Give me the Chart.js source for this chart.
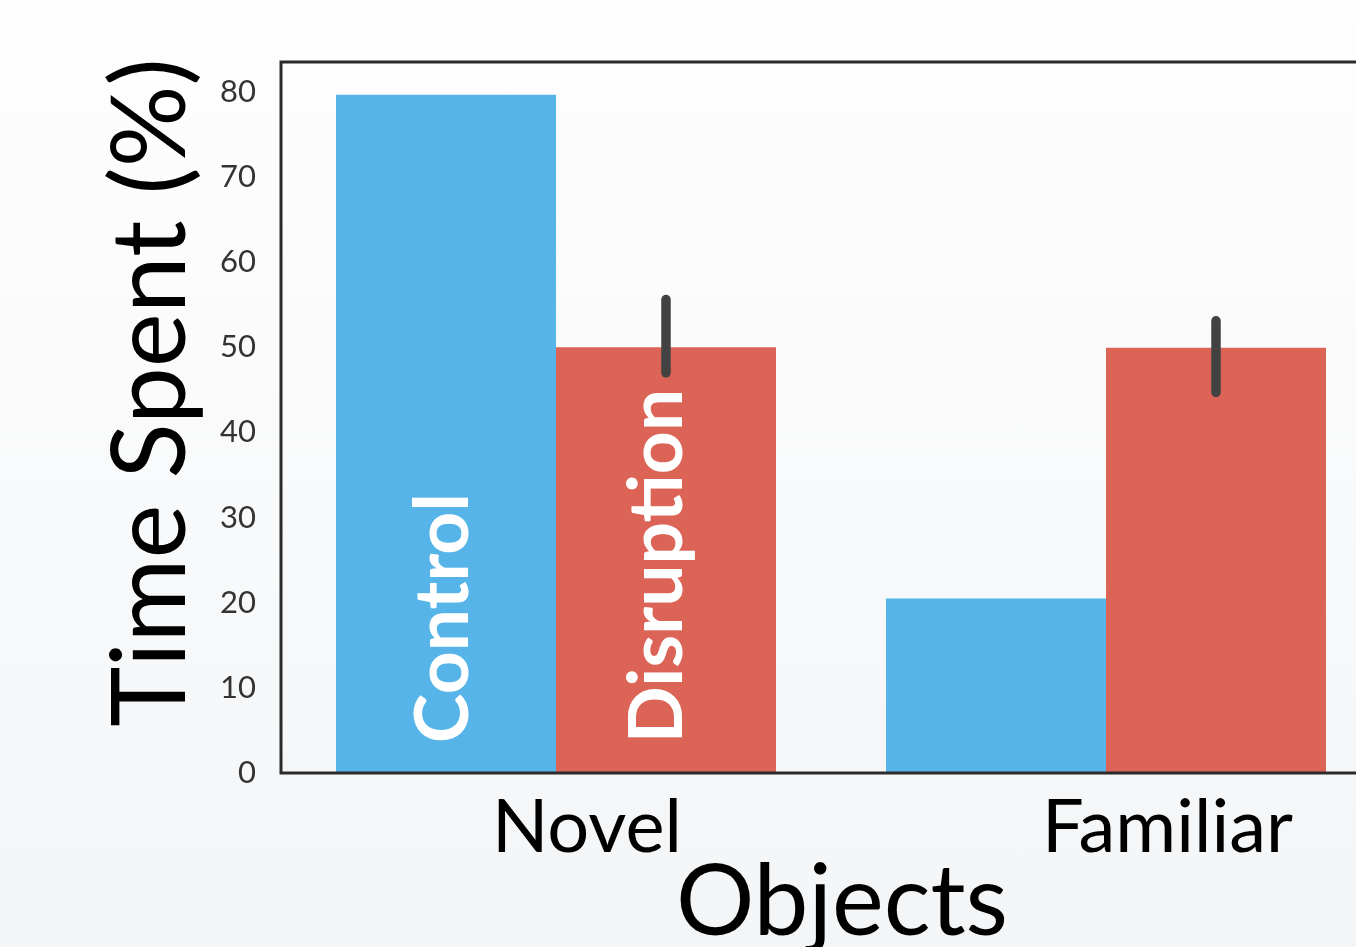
<!DOCTYPE html>
<html>
<head>
<meta charset="utf-8">
<script src="https://cdn.jsdelivr.net/npm/chart.js@4.4.1/dist/chart.umd.min.js"></script>
<style>
  html, body {
    margin: 0;
    padding: 0;
    width: 1356px;
    height: 947px;
    overflow: hidden;
    background: linear-gradient(to bottom, #fefefe 0%, #f3f5f7 100%);
  }
  #wrap { position: absolute; left: 0; top: 0; width: 1400px; height: 990px; }
</style>
</head>
<body>
<div id="wrap"><canvas id="c" width="1400" height="990"></canvas></div>
<script>
// Object exploration: share of time spent on each object type
const categories = ['Novel', 'Familiar'];
const seriesNames = ['Control', 'Disruption'];
const controlValues = [79.65, 20.5];
const disruptionValues = [50.0, 49.95];
const disruptionCiLow = [47.0, 44.7];
const disruptionCiHigh = [55.6, 53.1];
const yTickValues = [0, 10, 20, 30, 40, 50, 60, 70, 80];
const yMax = 83.5;
const labelBaseValue = 3.5;
const xAxisTitle = 'Objects';
const yAxisTitle = 'Time Spent (%)';

const BLUE = '#56b4e8';
const RED = '#db6456';
const FONT = 'Lato, "Open Sans", "DejaVu Sans", sans-serif';

// white series names written up the first pair of bars
const barNamesPlugin = {
  id: 'barNames',
  afterDatasetsDraw(chart) {
    const ctx = chart.ctx;
    const y = chart.scales.y;
    chart.data.datasets.forEach((ds, i) => {
      const bar = chart.getDatasetMeta(i).data[0];
      ctx.save();
      ctx.font = 'bold 75px ' + FONT;
      ctx.fillStyle = '#ffffff';
      ctx.textAlign = 'left';
      ctx.textBaseline = 'alphabetic';
      const m = ctx.measureText(ds.label);
      const off = (m.actualBoundingBoxAscent - m.actualBoundingBoxDescent) / 2 - 6;
      ctx.translate(bar.x, y.getPixelForValue(labelBaseValue));
      ctx.rotate(-Math.PI / 2);
      ctx.fillText(ds.label, 0, off);
      ctx.restore();
    });
  }
};

// confidence interval lines on the disruption bars
const errorBarsPlugin = {
  id: 'errorBars',
  afterDatasetsDraw(chart) {
    const ctx = chart.ctx;
    const y = chart.scales.y;
    const meta = chart.getDatasetMeta(1);
    ctx.save();
    ctx.strokeStyle = '#424242';
    ctx.lineWidth = 9.5;
    ctx.lineCap = 'round';
    meta.data.forEach((bar, j) => {
      ctx.beginPath();
      ctx.moveTo(bar.x, y.getPixelForValue(disruptionCiLow[j]));
      ctx.lineTo(bar.x, y.getPixelForValue(disruptionCiHigh[j]));
      ctx.stroke();
    });
    ctx.restore();
  }
};

// dark frame round the plotting area, plus the two axis titles
const framePlugin = {
  id: 'frame',
  afterDraw(chart) {
    const { ctx, chartArea: a } = chart;
    ctx.save();
    ctx.strokeStyle = '#2b2b2b';
    ctx.lineWidth = 3;
    ctx.strokeRect(a.left, a.top, a.right - a.left, a.bottom - a.top);

    ctx.fillStyle = '#000000';
    ctx.textAlign = 'center';
    ctx.textBaseline = 'alphabetic';

    ctx.font = '98px ' + FONT;
    ctx.fillText(xAxisTitle, (a.left + a.right) / 2 + 11, a.bottom + 162);

    ctx.font = '102px ' + FONT;
    ctx.translate(a.left - 96, (a.top + a.bottom) / 2 - 25);
    ctx.rotate(-Math.PI / 2);
    ctx.fillText(yAxisTitle, 0, 0);
    ctx.restore();
  }
};

new Chart(document.getElementById('c'), {
  type: 'bar',
  data: {
    labels: categories,
    datasets: [
      { label: seriesNames[0], data: controlValues, backgroundColor: BLUE },
      { label: seriesNames[1], data: disruptionValues, backgroundColor: RED }
    ]
  },
  options: {
    responsive: false,
    animation: false,
    devicePixelRatio: 1,
    layout: { padding: { top: 62, right: 19, left: 0, bottom: 0 } },
    datasets: { bar: { categoryPercentage: 0.8, barPercentage: 1.0, borderWidth: 0 } },
    plugins: { legend: { display: false }, tooltip: { enabled: false }, title: { display: false } },
    scales: {
      x: {
        grid: { display: false, drawTicks: false },
        border: { display: false },
        afterFit(s) { s.height = 217; },
        ticks: {
          color: '#000000',
          font: { family: FONT, size: 74 },
          padding: 11,
          align: 'start',
          labelOffset: -64,
          maxRotation: 0
        },
        title: { display: false }
      },
      y: {
        min: 0,
        max: yMax,
        grid: { display: false, drawTicks: false },
        border: { display: false },
        afterFit(s) { s.width = 281; },
        afterBuildTicks(s) { s.ticks = yTickValues.map(v => ({ value: v })); },
        ticks: {
          color: '#333333',
          font: { family: FONT, size: 31 },
          padding: 25
        },
        title: { display: false }
      }
    }
  },
  plugins: [barNamesPlugin, errorBarsPlugin, framePlugin]
});
</script>
</body>
</html>
